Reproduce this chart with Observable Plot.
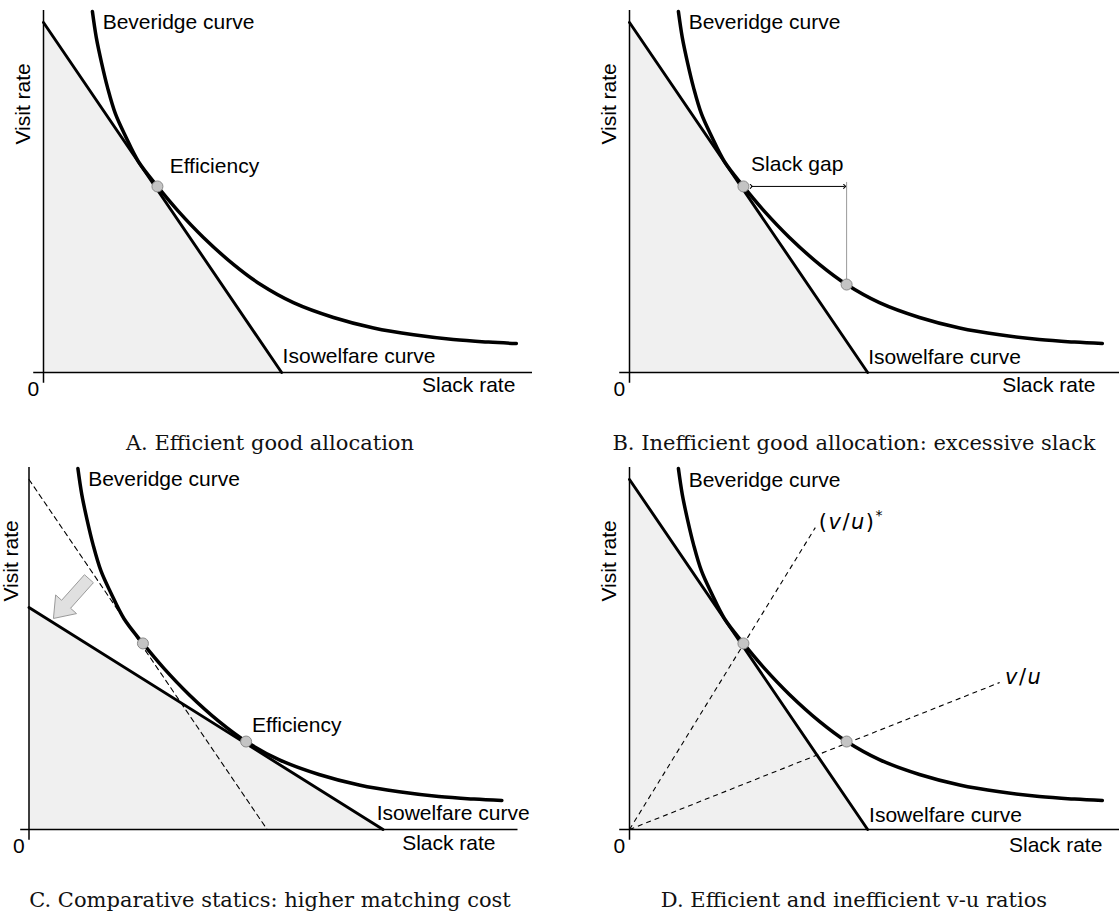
<!DOCTYPE html>
<html><head><meta charset="utf-8">
<script src="https://cdn.jsdelivr.net/npm/d3@7"></script>
<script src="https://cdn.jsdelivr.net/npm/@observablehq/plot@0.6"></script>
<style>
body{margin:0;background:#fff;}
#fig{position:relative;width:1119px;height:920px;overflow:hidden;background:#fff;}
.panel{position:absolute;}
.cap{position:absolute;width:540px;text-align:center;font-family:"DejaVu Serif",serif;font-size:21px;line-height:24px;color:#111;}
</style></head><body><div id="fig"></div>
<script>
// ---- data (abstract units: slack 0..10, visit 0..10) ----
const bevSlack = [1.00,1.08,1.19,1.31,1.47,1.68,1.94,2.33,2.76,3.27,3.89,4.44,5.11,5.93,6.75,7.57,8.38,9.10,9.67];
const bevVisit = [9.97,9.25,8.54,7.87,7.15,6.52,5.83,5.14,4.45,3.73,2.98,2.43,1.93,1.52,1.23,1.04,0.91,0.84,0.80];
const isoBase = [9.67, 4.87];   // [visit intercept, slack intercept]
const isoHigh = [6.13, 7.24];   // panel C, higher matching cost
const efficientPoint = [2.33, 5.14];
const otherPoint = [4.44, 2.43];
const rayStarEnd = [3.80, 8.34];
const rayEnd = [7.57, 4.06];
const shiftArrow = [[1.22, 6.92], [0.50, 5.83]]; // tail, tip
const captions = [
  "A. Efficient good allocation",
  "B. Inefficient good allocation: excessive slack",
  "C. Comparative statics: higher matching cost",
  "D. Efficient and inefficient v-u ratios"
];

const PX = 48.9, PY = 36.2;   // px per unit
const bev = bevSlack.map((s, i) => ({s, v: bevVisit[i]}));
const isoLine = iso => [{s: 0, v: iso[0]}, {s: iso[1], v: 0}];
const SANS = '"Liberation Sans", Arial, Helvetica, sans-serif';

function label(text, x, y, opts = {}) {
  return Plot.text([text], {x: () => x, y: () => y, text: d => d, textAnchor: "start", lineAnchor: "bottom",
    fontSize: 21, fill: "black", ...opts});
}

function blockArrow([tail, tip]) {
  const dx = (tip[0] - tail[0]) * PX, dy = (tip[1] - tail[1]) * PY;
  const L = Math.hypot(dx, dy), ux = dx / L, uy = dy / L, nx = -uy, ny = ux;
  const bw = 6, hw = 14, hl = 19;
  const pt = (along, side) => {
    const px = tail[0] * PX + ux * along + nx * side;
    const py = tail[1] * PY + uy * along + ny * side;
    return {s: px / PX, v: py / PY};
  };
  return [pt(0, bw), pt(L - hl, bw), pt(L - hl, hw), pt(L, 0), pt(L - hl, -hw), pt(L - hl, -bw), pt(0, -bw)];
}

function panel(o) {
  const marks = [];
  const mainIso = o.iso;
  marks.push(Plot.areaY(isoLine(mainIso), {x: "s", y: "v", fill: "#f0f0f0"}));
  marks.push(Plot.ruleY([0], {x1: o.xa[0], x2: o.xa[1], stroke: "black", strokeWidth: 1.5}));
  marks.push(Plot.ruleX([0], {y1: -0.3, y2: 10, stroke: "black", strokeWidth: 1.5}));
  if (o.extra) marks.push(...o.extra);
  marks.push(Plot.line(isoLine(mainIso), {x: "s", y: "v", stroke: "black", strokeWidth: 2.9}));
  marks.push(Plot.line(bev, {x: "s", y: "v", curve: "catmull-rom", stroke: "black", strokeWidth: 3.5}));
  if (o.after) marks.push(...o.after);
  marks.push(Plot.dot(o.points, {x: d => d[0], y: d => d[1], r: 5.5, fill: "#c4c4c4", stroke: "#8a8a8a", strokeWidth: 1}));
  marks.push(label("Beveridge curve", 1.21, o.bevY ?? 9.5));
  marks.push(label("Isowelfare curve", o.isoLab[0], o.isoLab[1]));
  marks.push(label("Slack rate", o.slackX, o.slackY ?? -0.55, {textAnchor: "end"}));
  marks.push(label("0", -0.21, -0.64, {textAnchor: "middle"}));
  marks.push(label("Visit rate", o.visitX ?? -0.42, 7.42, {textAnchor: "middle", lineAnchor: "middle", rotate: -90}));
  if (o.labels) marks.push(...o.labels);
  return Plot.plot({
    width: o.width, height: 430,
    x: {domain: [0, 10], range: [o.ox, o.ox + 10 * PX], axis: null},
    y: {domain: [0, 10], range: [372, 372 - 10 * PY], axis: null},
    style: {fontFamily: SANS, fontSize: "21px", background: "transparent", overflow: "visible"},
    marks
  });
}

const fig = document.getElementById("fig");
function place(el, left, top) {
  const d = document.createElement("div");
  d.className = "panel"; d.style.left = left + "px"; d.style.top = top + "px";
  d.appendChild(el); fig.appendChild(d); return d;
}
function caption(text, left, top) {
  const c = document.createElement("div");
  c.className = "cap"; c.style.left = left + "px"; c.style.top = top + "px"; c.textContent = text;
  fig.appendChild(c);
}

// Panel A
place(panel({
  width: 560, ox: 43, xa: [-0.2, 10], iso: isoBase, points: [efficientPoint],
  isoLab: [4.89, 0.25], slackX: 9.65,
  labels: [label("Efficiency", 2.58, 5.5)]
}), 0, 0);

// Panel B
place(panel({
  width: 559, ox: 69, xa: [-0.2, 10.1], iso: isoBase, points: [efficientPoint, otherPoint],
  isoLab: [4.88, 0.24], slackX: 9.53, bevY: 9.49,
  after: [
    Plot.ruleX([otherPoint[0]], {y1: 5.25, y2: otherPoint[1], stroke: "#999", strokeWidth: 1}),
    Plot.link([0], {x1: () => efficientPoint[0] + 0.16, x2: () => otherPoint[0] - 0.04,
      y1: () => efficientPoint[1], y2: () => efficientPoint[1], stroke: "black", strokeWidth: 1,
      markerStart: "arrow", markerEnd: "arrow"})
  ],
  labels: [label("Slack gap", 3.43, 5.58, {textAnchor: "middle"})]
}), 560, 0);

// Panel C
place(panel({
  width: 560, ox: 28.5, xa: [-0.17, 10], iso: isoHigh, points: [efficientPoint, otherPoint],
  isoLab: [7.11, 0.25], slackX: 9.54, slackY: -0.58, visitX: -0.36,
  extra: [
    Plot.line(isoLine(isoBase), {x: "s", y: "v", stroke: "black", strokeWidth: 1.1, strokeDasharray: "5,4"}),
    Plot.line(blockArrow(shiftArrow), {x: "s", y: "v", curve: "linear-closed", fill: "#e0e0e0", stroke: "#9a9a9a", strokeWidth: 1})
  ],
  labels: [label("Efficiency", 4.56, 2.69)]
}), 0, 457);

// Panel D
const rays = [rayStarEnd, rayEnd];
place(panel({
  width: 559, ox: 69, xa: [-0.2, 10.1], iso: isoBase, points: [efficientPoint, otherPoint],
  isoLab: [4.9, 0.2], slackX: 9.67, slackY: -0.63, bevY: 9.45,
  extra: [
    Plot.link(rays, {x1: () => 0, y1: () => 0, x2: d => d[0], y2: d => d[1], stroke: "black", strokeWidth: 1.1, strokeDasharray: "5,4"})
  ],
  labels: [
    label("(v/u)*", 3.87, 8.29, {fontFamily: '"DejaVu Sans", sans-serif'}),
    label("v/u", 7.68, 4.03, {fontFamily: '"DejaVu Sans", sans-serif'})
  ]
}), 560, 457);

// mathtext-like styling
fig.querySelectorAll("text").forEach(t => {
  const s = t.textContent;
  if (s === "(v/u)*" || s === "v/u") {
    const star = s === "(v/u)*";
    t.textContent = "";
    const add = (txt, italic, extra) => {
      const ts = document.createElementNS("http://www.w3.org/2000/svg", "tspan");
      ts.textContent = txt;
      if (italic) ts.setAttribute("font-style", "italic");
      if (extra) for (const k in extra) ts.setAttribute(k, extra[k]);
      t.appendChild(ts);
    };
    t.setAttribute("letter-spacing", "1.5");
    if (star) add("(", false);
    add("v", true); add("/", false); add("u", true);
    if (star) { add(")", false); add("*", false, {dy: "-9", "font-size": "14"}); }
  }
});

caption(captions[0], 0, 431);
caption(captions[1], 584, 431);
caption(captions[2], 0, 888);
caption(captions[3], 584, 888);
</script></body></html>
